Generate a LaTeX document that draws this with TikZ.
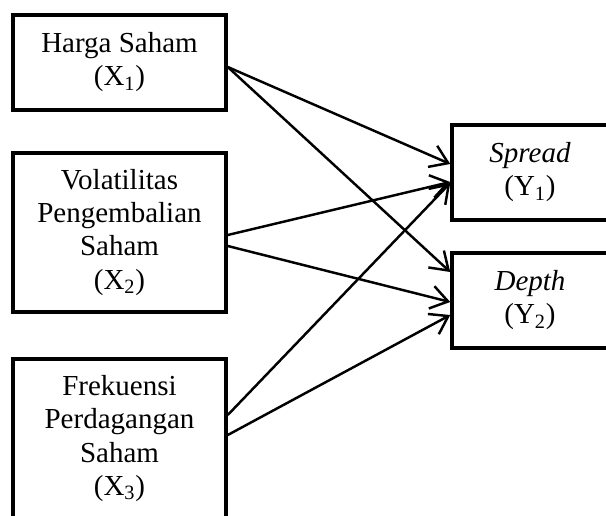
\documentclass[tikz,border=0pt]{standalone}
\usepackage{fontspec}
\setmainfont{Liberation Serif}
\usepackage{tikz}
\usetikzlibrary{arrows.meta, positioning, calc}

\begin{document}
\begin{tikzpicture}[
    box/.style={draw, line width=2pt, minimum width=4.26cm, minimum height=1.9cm, align=center, inner sep=0pt,
        font=\fontsize{16.5}{18.8}\selectfont},
    ybox/.style={box, minimum width=3.12cm},
    arrow/.style={-{Straight Barb[length=3.4mm, width=4.6mm, line width=1.4pt]}, line width=1.4pt},
]
    \useasboundingbox (0,0) rectangle (12.12,-10.3);

    % Independent variables
    \node[box] (x1) at (2.39, -1.25) {Harga Saham\\(X\textsubscript{1})};
    \node[box, minimum height=3.18cm] (x2) at (2.39, -4.65) {Volatilitas\\Pengembalian\\Saham\\(X\textsubscript{2})};
    \node[box, minimum height=3.18cm] (x3) at (2.39, -8.77) {Frekuensi\\Perdagangan\\Saham\\(X\textsubscript{3})};

    % Dependent variables
    \node[ybox] (y1) at (10.6, -3.45) {\textit{Spread}\\(Y\textsubscript{1})};
    \node[ybox] (y2) at (10.6, -6.01) {\textit{Depth}\\(Y\textsubscript{2})};

    % Arrows
    \draw[arrow] ([yshift=-0.09cm]x1.east) -- ([yshift=0.17cm]y1.west);
    \draw[arrow] ([yshift=-0.09cm]x1.east) -- ([yshift=0.57cm]y2.west);
    \draw[arrow] ([yshift=-0.05cm]x2.east) -- ([yshift=-0.19cm]y1.west);
    \draw[arrow] ([yshift=-0.27cm]x2.east) -- ([yshift=-0.03cm]y2.west);
    \draw[arrow] ([yshift=0.47cm]x3.east) -- ([yshift=-0.21cm]y1.west);
    \draw[arrow] ([yshift=0.07cm]x3.east) -- ([yshift=-0.29cm]y2.west);
\end{tikzpicture}
\end{document}
